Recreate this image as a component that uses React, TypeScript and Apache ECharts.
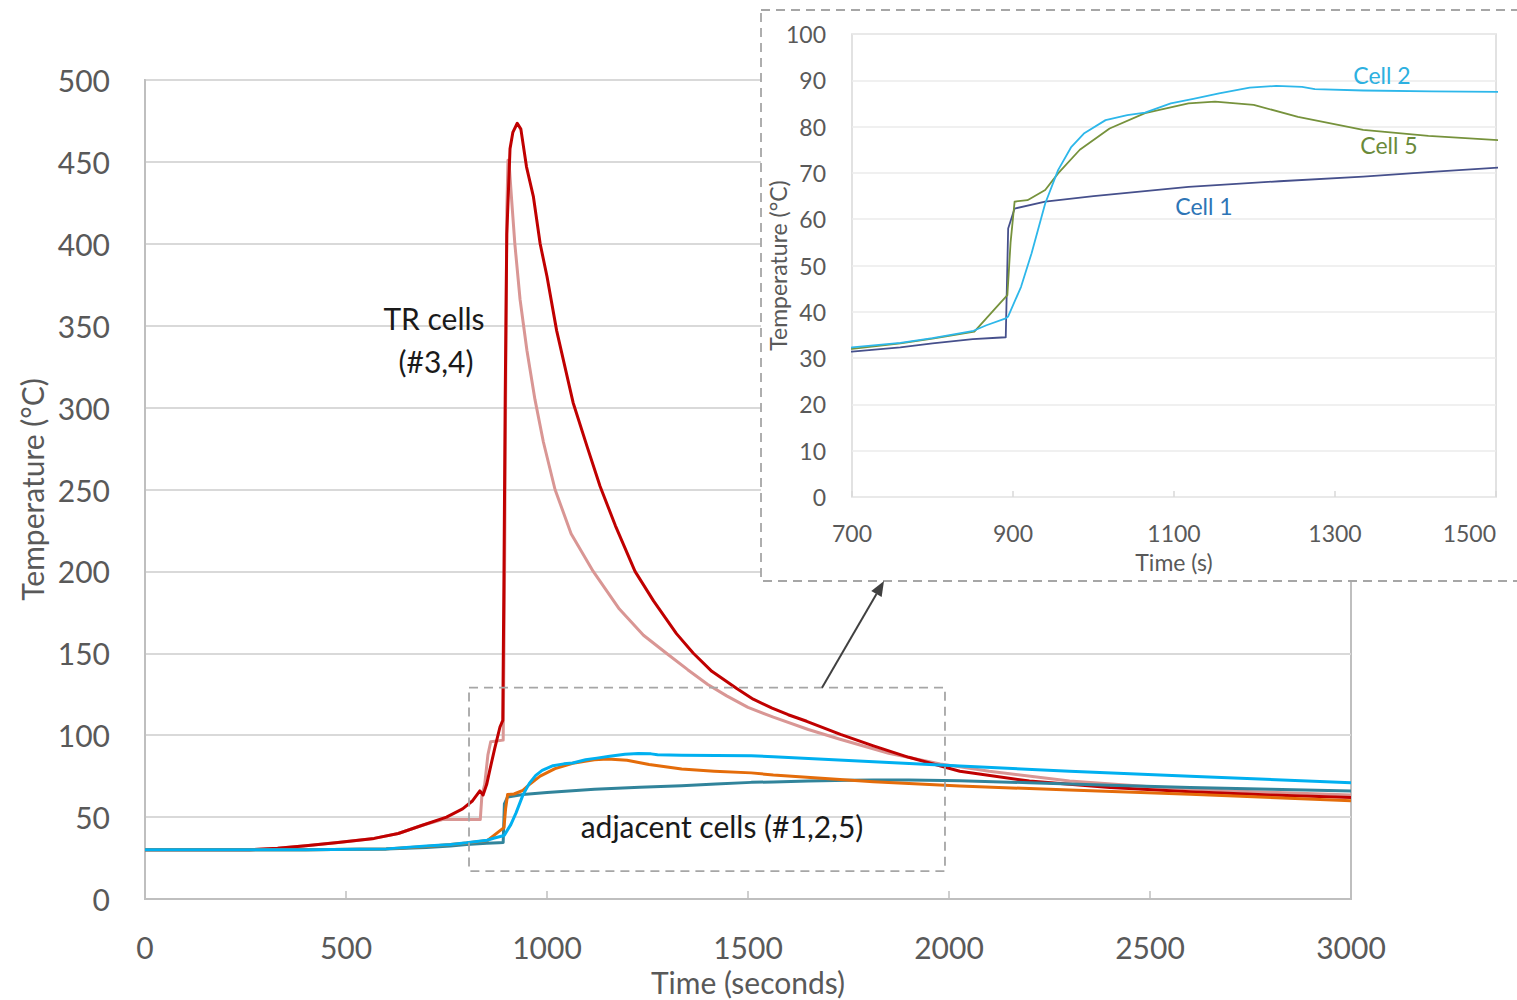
import React, { useEffect, useRef } from "react";
import * as echarts from "echarts";

// ---- Main chart data (time in seconds, temperature in °C) ----
const trDarkTime = [0, 100, 200, 260, 330, 400, 480, 570, 630, 690, 750, 790, 815, 833, 841, 850, 858, 870, 883, 890, 893, 896, 900, 908, 915, 926, 935, 949, 966, 983, 1000, 1024, 1065, 1100, 1132, 1170, 1219, 1265, 1322, 1364, 1410, 1472, 1513, 1560, 1600, 1646, 1730, 1812, 1900, 2027, 2200, 2400, 2600, 2800, 3000];
const trDarkTemp = [30, 30, 30, 30, 31, 32.5, 34.5, 37, 40, 45, 50, 55, 60, 66, 63.5, 70, 79, 92, 105, 109, 200, 305, 406, 458, 468, 473.6, 470, 447, 429, 400, 380, 347, 303, 276, 252, 228, 200, 182, 162, 150, 139, 128.5, 122, 116.5, 112.5, 108.5, 100.5, 93.5, 86.5, 78, 72, 68, 65.5, 63.5, 62];

const trLightTime = [0, 100, 200, 260, 330, 400, 480, 570, 630, 690, 740, 790, 834, 838, 845, 853, 860, 891, 894, 897, 900, 903, 906, 912, 920, 933, 950, 970, 991, 1020, 1060, 1115, 1180, 1240, 1297, 1350, 1400, 1447, 1500, 1563, 1650, 1729, 1850, 1978, 2100, 2300, 2500, 2700, 3000];
const trLightTemp = [30, 30, 30, 30, 31, 32.5, 34.5, 37, 40, 45, 48.5, 48.5, 48.5, 63, 70, 88, 96, 97, 180, 300, 420, 451, 448, 427, 400, 366, 335, 305, 279, 250, 223, 200, 177, 161, 150, 140, 131, 124, 117, 111, 103.5, 97.5, 89, 82.5, 78, 72, 68.5, 66, 63.5];

const cell1Time = [0, 200, 400, 600, 700, 760, 800, 850, 880, 891, 894, 902, 940, 1000, 1118, 1231, 1335, 1420, 1508, 1563, 1650, 1750, 1812, 1900, 2027, 2200, 2400, 2600, 2800, 3000];
const cell1Temp = [30, 30, 30, 30.5, 31.4, 32.3, 33.2, 34.1, 34.4, 34.5, 58, 62.3, 63.8, 65, 67, 68.2, 69.2, 70.2, 71.2, 71.5, 72, 72.5, 72.6, 72.6, 72.2, 71, 69.5, 68, 67, 66];

const cell2Time = [0, 200, 400, 600, 700, 760, 800, 851, 867, 891, 894, 910, 923, 940, 956, 972, 988, 1015, 1042, 1064, 1096, 1124, 1156, 1194, 1227, 1259, 1275, 1335, 1420, 1508, 1563, 1800, 2027, 2300, 2600, 3000];
const cell2Temp = [30, 30, 30, 30.6, 32.3, 33.3, 34.3, 35.9, 37.1, 38.6, 39, 45.4, 52.6, 63.4, 70.6, 75.5, 78.5, 81.4, 82.5, 83, 85, 86, 87.2, 88.4, 88.8, 88.6, 88.1, 87.8, 87.6, 87.5, 86.8, 84, 81.2, 78, 75, 71];

const cell5Time = [0, 200, 400, 600, 700, 760, 800, 852, 880, 893, 897, 902, 918, 940, 956, 983, 1020, 1064, 1118, 1151, 1199, 1254, 1335, 1416, 1508, 1563, 1812, 2027, 2300, 2600, 3000];
const cell5Temp = [30, 30, 30, 30.6, 32, 33.2, 34.2, 35.7, 41.1, 43.6, 55, 63.8, 64.1, 66.3, 69.9, 75, 79.6, 82.9, 85, 85.4, 84.7, 82.1, 79.3, 78, 77, 75.7, 71.6, 69, 66.5, 64, 60];

// ---- Axis ticks ----
const mainXTicks = [0, 500, 1000, 1500, 2000, 2500, 3000];
const mainYTicks = [0, 50, 100, 150, 200, 250, 300, 350, 400, 450, 500];
const insetXTicks = [700, 900, 1100, 1300, 1500];
const insetYTicks = [0, 10, 20, 30, 40, 50, 60, 70, 80, 90, 100];

// zoomed region of the main chart (data coords) marked by the dashed box
const zoomRegionTime = [806, 1990];
const zoomRegionTemp = [17, 129];

const FONT = "Lato";
const pairs = (t: number[], v: number[]) => t.map((x, i) => [x, v[i]]);
const plain = (v: number) => String(v);

export default function App() {
  const ref = useRef<HTMLDivElement>(null);
  useEffect(() => {
    const chart = echarts.init(ref.current!, undefined, { renderer: "svg" });
    const axisText = { fontFamily: FONT, color: "#595959" };
    const mainLine = (name: string, t: number[], v: number[], color: string) => ({
      name,
      type: "line",
      xAxisIndex: 0,
      yAxisIndex: 0,
      data: pairs(t, v),
      showSymbol: false,
      smooth: false,
      lineStyle: { color, width: 3, join: "round" },
      z: 2,
    });
    const insetLine = (name: string, t: number[], v: number[], color: string) => ({
      name: name + " (inset)",
      type: "line",
      xAxisIndex: 1,
      yAxisIndex: 1,
      data: pairs(t, v),
      showSymbol: false,
      smooth: false,
      clip: true,
      lineStyle: { color, width: 1.8, join: "round" },
      z: 13,
    });
    chart.setOption({
      animation: false,
      backgroundColor: "#ffffff",
      grid: [
        { left: 145, top: 80, width: 1206, height: 819, show: true, borderColor: "#BFBFBF", borderWidth: 2, outerBoundsMode: "none" },
        { left: 852, top: 34, width: 644, height: 463, show: true, borderColor: "#D9D9D9", borderWidth: 1.5, backgroundColor: "#ffffff", z: 11, outerBoundsMode: "none" },
      ],
      xAxis: [
        {
          gridIndex: 0, type: "value", min: mainXTicks[0], max: mainXTicks[mainXTicks.length - 1], interval: 500,
          axisLine: { show: true, lineStyle: { color: "#BFBFBF", width: 2 } },
          axisTick: { show: true, inside: true, length: 8, lineStyle: { color: "#BFBFBF", width: 1.5 } },
          axisLabel: { ...axisText, fontSize: 30, margin: 33, customValues: mainXTicks, formatter: plain },
          splitLine: { show: false },
          name: "Time (seconds)", nameLocation: "middle", nameGap: 67,
          nameTextStyle: { ...axisText, fontSize: 30 },
        },
        {
          gridIndex: 1, type: "value", min: 700, max: 1500,
          axisLine: { show: false },
          axisTick: { show: true, inside: true, length: 6, customValues: insetXTicks, lineStyle: { color: "#D9D9D9", width: 1.5 } },
          axisLabel: { ...axisText, fontSize: 23, margin: 24, customValues: insetXTicks, formatter: plain, alignMaxLabel: "right" },
          splitLine: { show: false },
          name: "Time (s)", nameLocation: "middle", nameGap: 53,
          nameTextStyle: { ...axisText, fontSize: 23 },
          z: 12,
        },
      ],
      yAxis: [
        {
          gridIndex: 0, type: "value", min: 0, max: 500, interval: 50,
          axisLine: { show: true, lineStyle: { color: "#BFBFBF", width: 2 } },
          axisTick: { show: false },
          axisLabel: { ...axisText, fontSize: 30, margin: 35, customValues: mainYTicks, formatter: plain },
          splitLine: { show: true, lineStyle: { color: "#D9D9D9", width: 2 } },
          name: "Temperature (°C)", nameLocation: "middle", nameGap: 97,
          nameTextStyle: { ...axisText, fontSize: 30 },
        },
        {
          gridIndex: 1, type: "value", min: 0, max: 100, interval: 10,
          axisLine: { show: false },
          axisTick: { show: false },
          axisLabel: { ...axisText, fontSize: 23, margin: 26, customValues: insetYTicks, formatter: plain },
          splitLine: { show: true, lineStyle: { color: "#EBEBEB", width: 1.5 } },
          name: "Temperature (°C)", nameLocation: "middle", nameGap: 63, nameMoveOverlap: false,
          nameTextStyle: { ...axisText, fontSize: 23 },
          z: 12,
        },
      ],
      series: [
        mainLine("TR cell (light)", trLightTime, trLightTemp, "#D99694"),
        mainLine("TR cell (dark)", trDarkTime, trDarkTemp, "#C00000"),
        mainLine("Cell 1", cell1Time, cell1Temp, "#31849B"),
        mainLine("Cell 5", cell5Time, cell5Temp, "#E46C0A"),
        mainLine("Cell 2", cell2Time, cell2Temp, "#00B0F0"),
        insetLine("Cell 1", cell1Time, cell1Temp, "#46508C"),
        insetLine("Cell 5", cell5Time, cell5Temp, "#76923C"),
        insetLine("Cell 2", cell2Time, cell2Temp, "#2DB7EA"),
      ],
    });

    const p0 = chart.convertToPixel({ gridIndex: 0 }, [zoomRegionTime[0], zoomRegionTemp[1]]) as number[];
    const p1 = chart.convertToPixel({ gridIndex: 0 }, [zoomRegionTime[1], zoomRegionTemp[0]]) as number[];
    const arrowStart = [822, p0[1]];
    const arrowTip = [884, 581];
    const dx = arrowTip[0] - arrowStart[0];
    const dy = arrowTip[1] - arrowStart[1];
    const len = Math.hypot(dx, dy);
    const ux = dx / len, uy = dy / len;
    const hl = 15, hw = 6;
    const bx = arrowTip[0] - ux * hl, by = arrowTip[1] - uy * hl;
    const dash = { stroke: "#A6A6A6", lineWidth: 1.8, lineDash: [9, 6] };

    chart.setOption({
      graphic: [
        { type: "rect", z: 10, shape: { x: 761, y: 10, width: 800, height: 571 }, style: { fill: "#ffffff", ...dash } },
        { type: "rect", z: 10, shape: { x: p0[0], y: p0[1], width: p1[0] - p0[0], height: p1[1] - p0[1] }, style: { fill: "none", ...dash } },
        { type: "line", z: 10, shape: { x1: arrowStart[0], y1: arrowStart[1], x2: bx, y2: by }, style: { stroke: "#404040", lineWidth: 2 } },
        { type: "polygon", z: 10, shape: { points: [[arrowTip[0], arrowTip[1]], [bx - uy * hw, by + ux * hw], [bx + uy * hw, by - ux * hw]] }, style: { fill: "#404040" } },
        { type: "text", z: 14, x: 434, y: 318, style: { text: "TR cells", font: `30px ${FONT}`, fill: "#1A1A1A", textAlign: "center", textVerticalAlign: "middle" } },
        { type: "text", z: 14, x: 436, y: 361, style: { text: "(#3,4)", font: `30px ${FONT}`, fill: "#1A1A1A", textAlign: "center", textVerticalAlign: "middle" } },
        { type: "text", z: 14, x: 722, y: 826, style: { text: "adjacent cells (#1,2,5)", font: `30px ${FONT}`, fill: "#1A1A1A", textAlign: "center", textVerticalAlign: "middle" } },
        { type: "text", z: 14, x: 1382, y: 75, style: { text: "Cell 2", font: `23px ${FONT}`, fill: "#2DB0E0", textAlign: "center", textVerticalAlign: "middle" } },
        { type: "text", z: 14, x: 1389, y: 145, style: { text: "Cell 5", font: `23px ${FONT}`, fill: "#6A8A3A", textAlign: "center", textVerticalAlign: "middle" } },
        { type: "text", z: 14, x: 1204, y: 206, style: { text: "Cell 1", font: `23px ${FONT}`, fill: "#2E75B6", textAlign: "center", textVerticalAlign: "middle" } },
      ],
    });
    return () => chart.dispose();
  }, []);
  return <div ref={ref} style={{ position: "absolute", left: 0, top: 0, width: 1517, height: 1000 }} />;
}
